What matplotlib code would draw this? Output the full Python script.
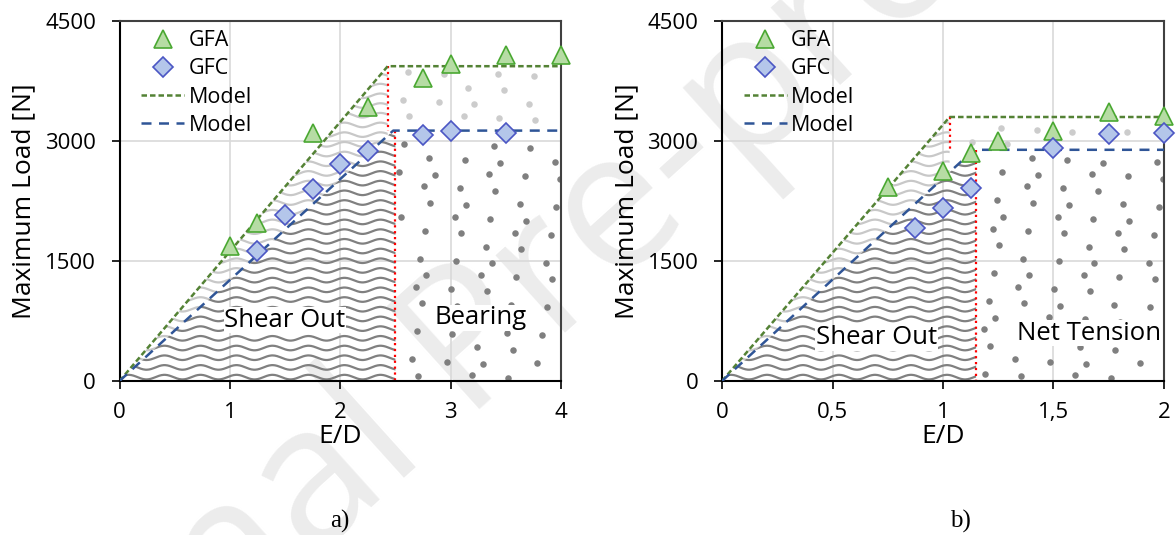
import numpy as np
import matplotlib.pyplot as plt
from matplotlib.patches import Polygon

plt.rcParams['font.family'] = ['Open Sans', 'DejaVu Sans']

# a) E/D from 0 to 4
a_gfa_x = [1, 1.25, 1.75, 2.25, 2.75, 3, 3.5, 4]
a_gfa_y = [1690, 1980, 3100, 3430, 3790, 3960, 4070, 4070]
a_gfc_x = [1.25, 1.5, 1.75, 2, 2.25, 2.75, 3, 3.5]
a_gfc_y = [1630, 2070, 2400, 2710, 2880, 3070, 3130, 3100]
a_mod_gfa_x = [0, 2.43, 4]
a_mod_gfa_y = [0, 3935, 3935]
a_mod_gfc_x = [0, 2.48, 4]
a_mod_gfc_y = [0, 3130, 3130]
a_limits = [2.43, 2.5]
a_xticks = [0, 1, 2, 3, 4]
a_xlabels = ['0', '1', '2', '3', '4']

# b) E/D from 0 to 2
b_gfa_x = [0.75, 1, 1.125, 1.25, 1.5, 1.75, 2]
b_gfa_y = [2420, 2620, 2850, 3000, 3130, 3360, 3310]
b_gfc_x = [0.875, 1, 1.125, 1.5, 1.75, 2]
b_gfc_y = [1910, 2160, 2410, 2910, 3090, 3100]
b_mod_gfa_x = [0, 1.03, 2]
b_mod_gfa_y = [0, 3300, 3300]
b_mod_gfc_x = [0, 1.14, 2]
b_mod_gfc_y = [0, 2890, 2890]
b_limits = [1.03, 1.15]
b_xticks = [0, 0.5, 1, 1.5, 2]
b_xlabels = ['0', '0,5', '1', '1,5', '2']

yticks = [0, 1500, 3000, 4500]

W, H = 1176, 535
fig = plt.figure(figsize=(W / 100, H / 100), dpi=100)

fig.text(0.425, 0.37, 'Journal Pre-proof', rotation=42, color='#ececec',
         fontsize=140, ha='center', va='center', zorder=-5)


def waves(ax, region, color, xmax, wpx):
    # horizontal wavy lines clipped to the region under the model curve
    clip = Polygon(region, closed=True, transform=ax.transData)
    xs = np.linspace(0, xmax, 600)
    step = 4500 * 9.7 / 360
    amp = 4500 * 2.3 / 360
    period = xmax * 36 / wpx
    for y0 in np.arange(step * 0.4, 4500, step):
        ln, = ax.plot(xs, y0 + amp * np.sin(2 * np.pi * xs / period),
                      color=color, lw=1.6, zorder=1)
        ln.set_clip_path(clip)


def stipple(xmax, wpx, hpx):
    # quasi-random stipple points spread over the plot area
    n = int(wpx * hpx / 650)
    g = 1.32471795724
    k = np.arange(1, n + 1)
    u = (0.5 + k / g) % 1
    v = (0.5 + k / g ** 2) % 1
    return u * xmax, v * 4500


def panel(ax, gfa_x, gfa_y, gfc_x, gfc_y, mga_x, mga_y, mgc_x, mgc_y,
          limits, xticks, xlabels, xmax, wpx, hpx, txt_left, txt_right):
    ax.patch.set_alpha(0)
    ax.set_xlim(0, xmax)
    ax.set_ylim(0, 4500)

    r1, r2 = limits
    g_top = np.interp(r1, mga_x, mga_y)
    b_r1 = np.interp(r1, mgc_x, mgc_y)
    b_lvl = mgc_y[-1]

    upper = [(0, 0)] + [(x, y) for x, y in zip(mga_x, mga_y) if 0 < x < r1] \
        + [(r1, g_top), (r1, b_r1)] \
        + [(x, y) for x, y in zip(mgc_x, mgc_y) if 0 < x < r1][::-1]
    lower = [(0, 0)] + [(x, y) for x, y in zip(mgc_x, mgc_y) if 0 < x < r2] \
        + [(r2, np.interp(r2, mgc_x, mgc_y)), (r2, 0)]
    waves(ax, upper, '#c8c8c8', xmax, wpx)
    waves(ax, lower, '#808080', xmax, wpx)

    px, py = stipple(xmax, wpx, hpx)
    gb = np.interp(px, mgc_x, mgc_y)
    ga = np.interp(px, mga_x, mga_y)
    light = (px >= r1 + 0.02 * xmax / 4) & (py > gb + 60) & (py < ga - 60)
    dark = (px >= r2 + 0.02 * xmax / 4) & (py < gb - 60) & (py > 30)
    ax.scatter(px[light], py[light], s=22, color='#cccccc', lw=0, zorder=1)
    ax.scatter(px[dark], py[dark], s=22, color='#7f7f7f', lw=0, zorder=1)

    ax.plot([r1, r1], [g_top, b_lvl], color='#ff0000', ls=':', lw=1.6, zorder=2)
    ax.plot([r2, r2], [b_lvl, 0], color='#ff0000', ls=':', lw=1.6, zorder=2)

    ax.plot(gfa_x, gfa_y, ls='none', marker='^', ms=13.5, mfc='#b6dca4',
            mec='#4aa832', mew=1.2, zorder=5, clip_on=False, label='GFA')
    ax.plot(gfc_x, gfc_y, ls='none', marker='D', ms=10.5, mfc='#b4c6ea',
            mec='#4b56c4', mew=1.2, zorder=5, clip_on=False, label='GFC')
    ax.plot(mga_x, mga_y, color='#548235', ls=(0, (2.2, 1.2)), lw=1.8,
            zorder=3, label='Model')
    ax.plot(mgc_x, mgc_y, color='#2f5597', ls=(0, (4, 3)), lw=1.8,
            zorder=3, label='Model')

    for x, y, s in [txt_left, txt_right]:
        ax.text(x, y, s, fontsize=18.5, ha='center', va='center', zorder=4,
                bbox=dict(facecolor='white', edgecolor='none', pad=0.5))

    ax.set_xticks(xticks)
    ax.set_xticklabels(xlabels)
    ax.set_yticks(yticks)
    ax.grid(True, color='#d9d9d9', lw=1.2, zorder=0)
    ax.set_axisbelow(True)
    ax.tick_params(axis='both', labelsize=16, length=6, width=1.2,
                   direction='out', color='black')
    ax.tick_params(axis='x', pad=9)
    ax.tick_params(axis='y', pad=11)
    for s in ['left', 'bottom']:
        ax.spines[s].set_color('black')
        ax.spines[s].set_linewidth(1.5)
    for s in ['top', 'right']:
        ax.spines[s].set_color('#404040')
        ax.spines[s].set_linewidth(1.5)
    ax.set_xlabel('E/D', fontsize=19, labelpad=1)
    ax.set_ylabel('Maximum Load [N]', fontsize=19, labelpad=6)
    ax.legend(loc='upper left', bbox_to_anchor=(0.02, 1.01), frameon=False,
              fontsize=15.5, handlelength=2.0, handletextpad=0.2,
              labelspacing=0.33, borderaxespad=0.2)


ax1 = fig.add_axes([119.5 / W, 1 - 381 / H, 441.5 / W, 360 / H])
ax2 = fig.add_axes([722 / W, 1 - 381 / H, 442 / W, 360 / H])

panel(ax1, a_gfa_x, a_gfa_y, a_gfc_x, a_gfc_y, a_mod_gfa_x, a_mod_gfa_y,
      a_mod_gfc_x, a_mod_gfc_y, a_limits, a_xticks, a_xlabels, 4, 441.5, 360,
      (1.5, 760, 'Shear Out'), (3.27, 790, 'Bearing'))
panel(ax2, b_gfa_x, b_gfa_y, b_gfc_x, b_gfc_y, b_mod_gfa_x, b_mod_gfa_y,
      b_mod_gfc_x, b_mod_gfc_y, b_limits, b_xticks, b_xlabels, 2, 442, 360,
      (0.7, 540, 'Shear Out'), (1.66, 600, 'Net Tension'))

fig.text(340 / W, 1 - 521 / H, 'a)', family='Liberation Serif', fontsize=18,
         ha='center', va='center')
fig.text(960 / W, 1 - 521 / H, 'b)', family='Liberation Serif', fontsize=18,
         ha='center', va='center')

fig.savefig('out.png', dpi=100)
